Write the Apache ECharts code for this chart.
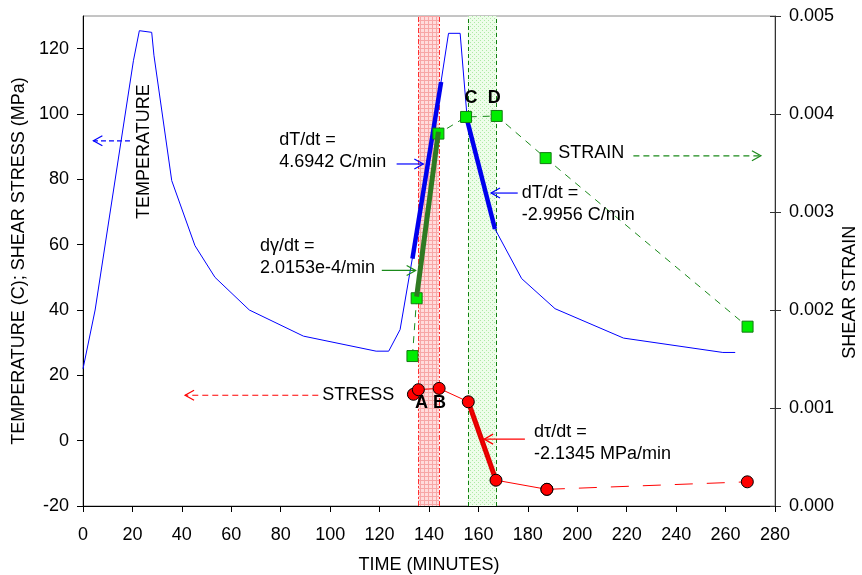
<!DOCTYPE html>
<html>
<head>
<meta charset="utf-8">
<script src="https://cdn.jsdelivr.net/npm/echarts@6/dist/echarts.min.js"></script>
<style>html,body{margin:0;padding:0;background:#fff}#c{width:862px;height:575px}</style>
</head>
<body>
<div id="c"></div>
<script>
// ---- data ----
const xTicks = [0,20,40,60,80,100,120,140,160,180,200,220,240,260,280];
const leftTicks = [-20,0,20,40,60,80,100,120];
const rightTicks = [0,0.001,0.002,0.003,0.004,0.005];

const tempT = [0,4.9,20.4,22.8,27.8,28.7,35.9,45.3,53.4,67.3,89.2,118.6,123.7,128.3,133.3,144.7,147.9,152.6,155.3,166.7,177.5,191.0,218.7,258.9,263.9];
const tempV = [22,40,116.3,125.5,125,118,79.6,59.7,50,40,32,27.4,27.4,34,56,109,124.7,124.7,100,64.8,49.6,40.4,31.4,27,27];

const strainT = [133.3,135.0,143.8,155.0,167.4,187.2,268.9];
const strainV = [0.00153,0.00212,0.00380,0.00397,0.00398,0.00355,0.00183];

const stressT = [133.7,135.7,144.1,155.9,167.1,187.7,268.8];
const stressV = [14.2,15.6,16.0,11.9,-12.1,-14.9,-12.6];

const tempFit1T = [133.3,144.9], tempFit1V = [55.7,109.8];
const tempFit2T = [155.3,166.7], tempFit2V = [98.5,64.8];
const strainFitT = [135.0,143.8], strainFitV = [0.002136,0.003819];
const stressFitT = [155.9,167.1], stressFitV = [11.9,-12.1];

const bandAB = [135.7,144.1];
const bandCD = [155.7,167.4];

const zip = (a,b) => a.map((v,i)=>[v,b[i]]);

// ---- patterns ----
function makePattern(bg, fg, kind){
  const c = document.createElement('canvas');
  c.width = 4; c.height = 4;
  const g = c.getContext('2d');
  g.fillStyle = bg; g.fillRect(0,0,4,4);
  g.fillStyle = fg;
  if(kind==='grid'){ g.fillRect(0,0,4,1); g.fillRect(0,0,1,4); }
  else { g.fillRect(0,0,1,1); g.fillRect(2,2,1,1); }
  return {image:c, repeat:'repeat'};
}
const redPat = makePattern('#ffdcdc','#f7a6a6','grid');
const greenPat = makePattern('#eefdea','#aeeaa6','dots');

const FONT = 'Liberation Sans, Arial, Helvetica, sans-serif';
const chart = echarts.init(document.getElementById('c'), null, {renderer:'canvas'});

const option = {
  animation:false,
  grid:{left:83,right:87,top:16,bottom:69,show:true,borderColor:'#8a8a8a',borderWidth:1,backgroundColor:'transparent',
    containLabel:false,outerBoundsMode:'none'},
  xAxis:{type:'value',min:0,max:280,interval:20,
    name:'TIME (MINUTES)',nameLocation:'middle',nameGap:50,
    nameTextStyle:{fontSize:18,fontFamily:FONT,color:'#000'},
    axisLine:{onZero:false,lineStyle:{color:'#000',width:1}},
    axisTick:{length:6,lineStyle:{color:'#000'}},
    axisLabel:{fontSize:18,fontFamily:FONT,color:'#000',margin:20},
    splitLine:{show:false}},
  yAxis:[
    {type:'value',min:-20,max:130,position:'left',
      name:'TEMPERATURE (C); SHEAR STRESS (MPa)',nameLocation:'middle',nameRotate:90,nameGap:47,
      nameTextStyle:{fontSize:18,fontFamily:FONT,color:'#000'},
      axisLine:{show:true,onZero:false,lineStyle:{color:'#000'}},
      axisTick:{show:true,length:6,customValues:leftTicks,lineStyle:{color:'#000'}},
      axisLabel:{fontSize:18,fontFamily:FONT,color:'#000',margin:14,customValues:leftTicks},
      splitLine:{show:false}},
    {type:'value',min:0,max:0.005,interval:0.001,position:'right',
      axisLine:{show:true,onZero:false,lineStyle:{color:'#333'}},
      axisTick:{show:true,length:6,lineStyle:{color:'#333'}},
      axisLabel:{fontSize:18,fontFamily:FONT,color:'#000',margin:14,formatter:v=>v.toFixed(3)},
      splitLine:{show:false}},
    {type:'value',min:0,max:0.005,interval:0.001,position:'right',
      axisLine:{show:false,onZero:false},
      axisTick:{show:true,inside:true,length:5,lineStyle:{color:'#333'}},
      axisLabel:{show:false},splitLine:{show:false}}
  ],
  series:[
    {name:'bands',type:'line',data:[],z:0,silent:true,
      markArea:{silent:true,z:0,data:[
        [{xAxis:bandAB[0],itemStyle:{color:redPat}},{xAxis:bandAB[1]}],
        [{xAxis:bandCD[0],itemStyle:{color:greenPat}},{xAxis:bandCD[1]}]
      ]},
      markLine:{silent:true,symbol:'none',label:{show:false},z:1,data:[
        {xAxis:bandAB[0],lineStyle:{color:'#ff3030',type:[5,2,2,2],width:1}},
        {xAxis:bandAB[1],lineStyle:{color:'#ff3030',type:[5,2,2,2],width:1}},
        {xAxis:bandCD[0],lineStyle:{color:'#108010',type:[4,3],width:1}},
        {xAxis:bandCD[1],lineStyle:{color:'#108010',type:[4,3],width:1}}
      ]}},
    {name:'Temperature',type:'line',data:zip(tempT,tempV),showSymbol:false,symbol:'none',
      lineStyle:{color:'#0000ff',width:1},z:3},
    {name:'dT/dt heat',type:'line',data:zip(tempFit1T,tempFit1V),symbol:'none',lineStyle:{color:'#0000ee',width:4.5},z:4},
    {name:'dT/dt cool',type:'line',data:zip(tempFit2T,tempFit2V),symbol:'none',lineStyle:{color:'#0000ee',width:4.5},z:4},
    {name:'Strain',type:'line',yAxisIndex:1,data:zip(strainT,strainV),symbol:'rect',symbolSize:11,
      lineStyle:{color:'#1a8a1a',width:1,type:[7,6]},itemStyle:{color:'#00ee00',borderColor:'#127a12',borderWidth:1},z:5},
    {name:'dγ/dt',type:'line',yAxisIndex:1,data:zip(strainFitT,strainFitV),symbol:'none',lineStyle:{color:'#2f7a22',width:5},z:6},
    {name:'Stress',type:'line',data:zip(stressT.slice(0,6),stressV.slice(0,6)),symbol:'circle',symbolSize:12,
      lineStyle:{color:'#ff0000',width:1},itemStyle:{color:'#ff0000',borderColor:'#000',borderWidth:1},z:7},
    {name:'Stress tail',type:'line',data:zip(stressT.slice(5),stressV.slice(5)),symbol:'circle',symbolSize:12,
      lineStyle:{color:'#ff0000',width:1,type:[18,14]},itemStyle:{color:'#ff0000',borderColor:'#000',borderWidth:1},z:7},
    {name:'dτ/dt',type:'line',data:zip(stressFitT,stressFitV),symbol:'none',lineStyle:{color:'#e00000',width:5},z:6}
  ]
};
chart.setOption(option);

// ---- annotations (data coordinates on left axis) ----
const notes = [
  {t:79.4,v:88.7,text:'dT/dt =\n4.6942 C/min'},
  {t:71.6,v:56.3,text:'dγ/dt =\n2.0153e-4/min'},
  {t:177.5,v:72.5,text:'dT/dt =\n-2.9956 C/min'},
  {t:192.3,v:88.1,text:'STRAIN'},
  {t:182.5,v:-0.85,text:'dτ/dt =\n-2.1345 MPa/min'},
  {t:96.8,v:13.9,text:'STRESS'}
];
const letters = [
  {t:137.0,v:11.6,text:'A'},{t:144.2,v:11.6,text:'B'},
  {t:157.0,v:105.0,text:'C'},{t:166.4,v:105.0,text:'D'}
];
const arrows = [
  {a:[126.9,84.7],b:[137.7,84.7],c:'#0000ff',d:null},
  {a:[120.9,52.1],b:[134.6,52.1],c:'#1a8a1a',d:null},
  {a:[175.9,75.8],b:[165.1,75.8],c:'#0000ff',d:null},
  {a:[222.7,87.2],b:[274.3,87.2],c:'#1a8a1a',d:[6,4]},
  {a:[178.8,0.47],b:[162.3,0.47],c:'#ff0000',d:null},
  {a:[95.2,13.9],b:[41.3,13.9],c:'#ff0000',d:[6,4]},
  {a:[19.0,91.8],b:[4.2,91.8],c:'#0000ff',d:[5,3]}
];
const P = p => chart.convertToPixel({xAxisIndex:0,yAxisIndex:0},p);
const g = [];
notes.forEach(n=>{
  const p = P([n.t,n.v]);
  g.push({type:'text',x:p[0],y:p[1],z:100,silent:true,
    style:{text:n.text,fontSize:18,fontFamily:FONT,fill:'#000',align:'left',verticalAlign:'middle',lineHeight:22}});
});
letters.forEach(n=>{
  const p = P([n.t,n.v]);
  g.push({type:'text',x:p[0],y:p[1],z:100,silent:true,
    style:{text:n.text,fontSize:18,fontWeight:'bold',fontFamily:FONT,fill:'#000',align:'center',verticalAlign:'middle'}});
});
{
  const p = P([24.7,88.5]);
  g.push({type:'text',x:p[0],y:p[1],rotation:Math.PI/2,z:100,silent:true,
    style:{text:'TEMPERATURE',fontSize:18,fontFamily:FONT,fill:'#000',align:'center',verticalAlign:'middle'}});
}
arrows.forEach(ar=>{
  const a = P(ar.a), b = P(ar.b);
  const dir = Math.sign(b[0]-a[0]);
  g.push({type:'polyline',z:90,silent:true,shape:{points:[a,b]},
    style:{stroke:ar.c,lineWidth:1.2,lineDash:ar.d||null,fill:null}});
  g.push({type:'polyline',z:90,silent:true,shape:{points:[[b[0]-dir*9,b[1]-5],b,[b[0]-dir*9,b[1]+5]]},
    style:{stroke:ar.c,lineWidth:1.2,fill:null}});
});
// right axis title
const rp = chart.convertToPixel({yAxisIndex:1},0.00218);
g.push({type:'text',x:862-12,y:rp,rotation:Math.PI/2,z:100,silent:true,
  style:{text:'SHEAR STRAIN',fontSize:18,fontFamily:FONT,fill:'#000',align:'center',verticalAlign:'middle'}});
chart.setOption({graphic:g});
</script>
</body>
</html>
